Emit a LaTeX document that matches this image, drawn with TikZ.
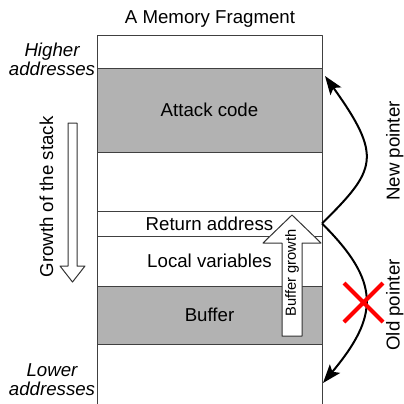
\documentclass[tikz,border=0pt]{standalone}
\usepackage{fontspec}
\setmainfont{Liberation Sans}
\usetikzlibrary{positioning,arrows.meta}
\definecolor{cellgray}{gray}{0.7}

\begin{document}
\begin{tikzpicture}[x=0.75pt, y=-0.75pt, font=\fontsize{14}{14.25}\selectfont,
	line join=round, >={Stealth[length=14pt,width=10pt,inset=3pt]},
	band/.style={draw=black!75, line width=0.75pt, minimum width=168.75pt, outer sep=0pt, inner sep=0pt},
	grayband/.style={band, fill=cellgray},
	hollow/.style={draw=black!80, fill=white, line width=0.75pt},
	pointer/.style={->, line width=1.5pt},
	side/.style={rotate=90, anchor=base, inner sep=0pt}]
	\useasboundingbox (0,0) rectangle (404,404);
	\node[anchor=base] (title) at (210,23) {A Memory Fragment};
	% the stack, top to bottom
	\node[band, minimum height=24.75pt] (top) at (209.5,51.5) {};
	\node[grayband, minimum height=63pt, below=0pt of top] (atk) {Attack code};
	\node[band, minimum height=44.25pt, below=0pt of atk] (gap) {};
	\node[band, minimum height=18.75pt, below=0pt of gap] (ret) {Return address};
	\node[band, minimum height=37.5pt, below=0pt of ret] (loc) {Local variables};
	\node[grayband, minimum height=43.5pt, below=0pt of loc] (buf) {Buffer};
	\node[band, minimum height=46.5pt, below=0pt of buf] (bot) {};
	\node[align=center, font=\itshape\fontsize{14}{14.25}\selectfont] (high) at (52,59) {Higher\\addresses};
	\node[align=center, font=\itshape\fontsize{14}{14.25}\selectfont] (low) at (52,380) {Lower\\addresses};
	% growth of the stack
	\draw[hollow] (68,123) -- (77,123) -- (77,266) -- (85,266) -- (72.5,282) -- (60,266) -- (68,266) -- cycle;
	\node[side] (grow) at (53,197) {Growth of the stack};
	% buffer growth
	\draw[hollow] (282,336) -- (302,336) -- (302,243) -- (321,243) -- (292,215) -- (263,243) -- (282,243) -- cycle;
	\node[rotate=90, font=\fontsize{11}{13}\selectfont] (bgrow) at (292,273) {Buffer growth};
	% pointers
	\coordinate (newtip) at (325,76);
	\coordinate (oldtip) at (323,383);
	\draw[pointer] (ret.east) .. controls (376,170) and (383,157) .. (newtip);
	\draw[pointer] (ret.east) .. controls (381,282) and (379,316) .. (oldtip);
	\draw[red, line width=3pt] (344,283) -- (383,322) (344,322) -- (383,283);
	\node[side] (newp) at (399.5,151) {New pointer};
	\node[side] (oldp) at (399.5,305) {Old pointer};
\end{tikzpicture}
\end{document}
